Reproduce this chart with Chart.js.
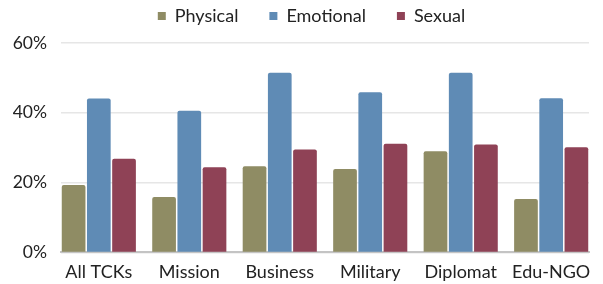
<!DOCTYPE html>
<html>
<head>
<meta charset="utf-8">
<script src="https://cdn.jsdelivr.net/npm/chart.js@4"></script>
<style>
  html, body { margin: 0; padding: 0; background: #fff; }
  #wrap { width: 603px; height: 284px; }
</style>
</head>
<body>
<div id="wrap"><canvas id="chart"></canvas></div>
<script>
// Data
const categories = ['All TCKs', 'Mission', 'Business', 'Military', 'Diplomat', 'Edu-NGO'];
const physical = [19.3, 15.9, 24.7, 23.9, 29.0, 15.3];
const emotional = [44.1, 40.6, 51.5, 45.9, 51.5, 44.2];
const sexual = [26.8, 24.4, 29.5, 31.1, 30.9, 30.1];
const yTicks = [0, 20, 40, 60];

const fontFamily = 'Lato, "Open Sans", sans-serif';

function bar(label, data, color) {
  return {
    label: label,
    data: data.map((v, i) => ({ x: i, y: v })),
    backgroundColor: color,
    borderWidth: 0,
    borderRadius: { topLeft: 2, topRight: 2 },
    borderSkipped: 'bottom',
    barPercentage: 0.94,
    categoryPercentage: 0.836
  };
}

// legend: fixed height, and placed where the original has it
const legendTweak = {
  id: 'legendTweak',
  beforeLayout(chart) {
    const lg = chart.legend;
    if (lg && !lg._fixed) {
      const fit = lg.fit.bind(lg);
      lg.fit = function () { fit(); this.height = 43; };
      lg._fixed = true;
    }
  },
  beforeDraw(chart) {
    const lg = chart.legend;
    lg.left += 11.5;
    lg.right += 11.5;
    lg.top = 7 - lg.options.labels.padding;
  }
};

new Chart(document.getElementById('chart'), {
  type: 'bar',
  data: {
    datasets: [
      bar('Physical', physical, '#8f8c64'),
      bar('Emotional', emotional, '#5f8bb5'),
      bar('Sexual', sexual, '#8f4256')
    ]
  },
  options: {
    responsive: true,
    maintainAspectRatio: false,
    animation: false,
    layout: { padding: { left: 11, right: 14, top: 0, bottom: 0 } },
    plugins: {
      legend: {
        position: 'top',
        labels: {
          font: { family: fontFamily, size: 18 },
          color: '#222',
          boxWidth: 8,
          boxHeight: 8,
          padding: 31
        }
      },
      tooltip: { enabled: false }
    },
    scales: {
      x: {
        type: 'linear',
        offset: false,
        min: -0.418,
        max: categories.length - 1 + 0.418,
        afterBuildTicks: axis => { axis.ticks = categories.map((c, i) => ({ value: i })); },
        grid: { display: false, offset: false },
        border: { color: '#c4c4c4', width: 2 },
        ticks: {
          font: { family: fontFamily, size: 18 },
          color: '#222',
          padding: 1,
          maxRotation: 0,
          autoSkip: false,
          callback: v => categories[v]
        }
      },
      y: {
        min: 0,
        max: 60,
        afterBuildTicks: axis => { axis.ticks = yTicks.map(v => ({ value: v })); },
        afterFit: axis => { axis.width = 50; },
        grid: { color: '#e6e6e6', lineWidth: 1.5, drawTicks: false },
        border: { display: false },
        ticks: {
          font: { family: fontFamily, size: 17.5 },
          color: '#222',
          padding: 14,
          callback: v => v + '%'
        }
      }
    }
  },
  plugins: [legendTweak]
});
</script>
</body>
</html>
